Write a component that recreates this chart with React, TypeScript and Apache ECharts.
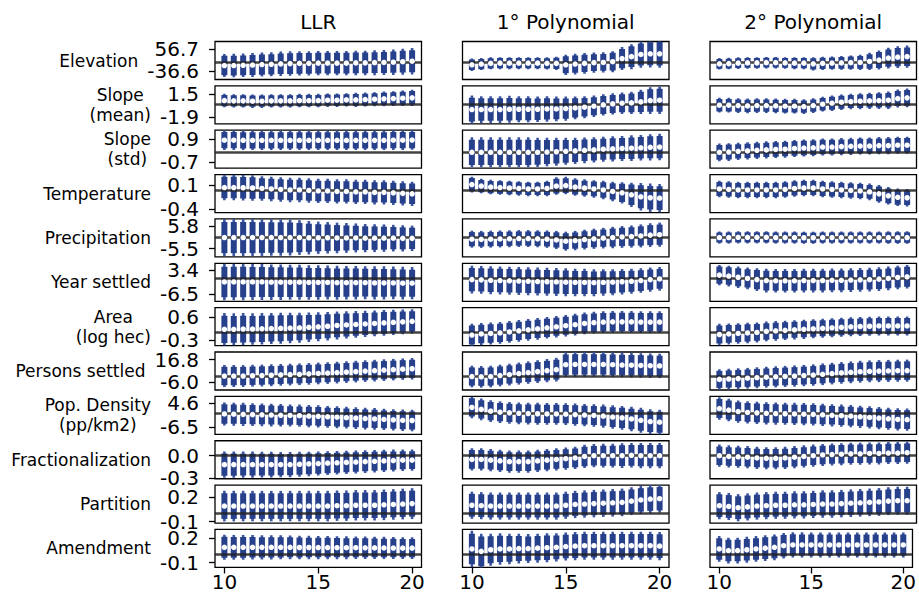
import React, { useEffect, useRef } from 'react';
import * as echarts from 'echarts';

// ---------- data ----------
const xValues = [10, 10.5, 11, 11.5, 12, 12.5, 13, 13.5, 14, 14.5, 15, 15.5, 16, 16.5, 17, 17.5, 18, 18.5, 19, 19.5, 20];
const xTicks = [10, 15, 20];
const columnTitles = ['LLR', '1° Polynomial', '2° Polynomial'];
const rowLabels = ['Elevation', 'Slope\n(mean)', 'Slope\n(std)', 'Temperature', 'Precipitation', 'Year settled', 'Area\n(log hec)', 'Persons settled', 'Pop. Density\n(pp/km2)', 'Fractionalization', 'Partition', 'Amendment'];
const tickHi = [56.7, 1.5, 0.9, 0.1, 5.8, 3.4, 0.6, 16.8, 4.6, 0.0, 0.2, 0.2];
const tickLo = [-36.6, -1.9, -0.7, -0.4, -5.5, -6.5, -0.3, -6.0, -6.5, -0.3, -0.1, -0.1];
const yMin = [-71.2, -2.93, -1.135, -0.464, -9.61, -9.67, -0.513, -14.2, -9.67, -0.309, -0.117, -0.16];
const yMax = [87.1, 2.74, 1.53, 0.315, 9.22, 6.4, 0.961, 24.4, 7.77, 0.2, 0.345, 0.312];

// estimates (est) and 95% CI half-widths (ci) per panel
const elevationLlrEst = [-13, -13, -12, -11, -9, -8, -6, -5, -4, -4, -3, -3, -3, -3, -2, -2, -1, 0, 1, 3, 5];
const elevationLlrCi = [48, 49, 49, 50, 50, 50, 51, 51, 51, 51, 51, 51, 51, 51, 51, 51, 52, 52, 53, 54, 55];
const elevationP1Est = [-10, -7, -4, -3, -3, -3, -3, -3, -4, -4, -10, -7, -4, -1, 0, 3, 16, 24, 33, 36, 36];
const elevationP1Ci = [26, 25, 25, 25, 25, 25, 25, 25, 26, 28, 42, 43, 43, 42, 42, 44, 48, 52, 55, 57, 58];
const elevationP2Est = [-6, -5, -3, -2, -2, -1, -1, -2, -3, -3, -6, -4, -3, -2, -1, 0, 4, 10, 18, 22, 24];
const elevationP2Ci = [24, 24, 24, 24, 24, 24, 24, 24, 25, 25, 28, 28, 28, 29, 30, 32, 36, 40, 43, 45, 46];

const slopeMeanLlrEst = [0.55, 0.5, 0.5, 0.45, 0.45, 0.5, 0.5, 0.5, 0.55, 0.55, 0.55, 0.6, 0.6, 0.65, 0.65, 0.7, 0.75, 0.8, 0.85, 0.9, 0.95];
const slopeMeanLlrCi = [1.0, 1.0, 1.0, 1.0, 1.0, 1.0, 1.0, 1.0, 1.0, 1.0, 1.0, 1.0, 1.0, 1.0, 1.05, 1.05, 1.05, 1.1, 1.1, 1.15, 1.2];
const slopeMeanP1Est = [-0.8, -0.8, -0.8, -0.8, -0.75, -0.75, -0.75, -0.75, -0.7, -0.7, -0.65, -0.55, -0.45, -0.3, -0.1, 0.05, 0.15, 0.2, 0.35, 0.55, 0.6];
const slopeMeanP1Ci = [2.1, 2.0, 2.0, 2.0, 2.0, 1.95, 1.95, 1.9, 1.9, 1.85, 1.8, 1.7, 1.65, 1.6, 1.6, 1.6, 1.6, 1.65, 1.8, 2.0, 2.05];
const slopeMeanP2Est = [-0.15, -0.15, -0.2, -0.25, -0.2, -0.2, -0.25, -0.3, -0.3, -0.35, -0.2, 0.0, 0.15, 0.3, 0.4, 0.45, 0.5, 0.55, 0.6, 0.85, 0.95];
const slopeMeanP2Ci = [1.1, 1.1, 1.1, 1.1, 1.1, 1.1, 1.1, 1.1, 1.1, 1.1, 1.1, 1.1, 1.15, 1.15, 1.15, 1.2, 1.2, 1.25, 1.3, 1.35, 1.4];

const slopeStdLlrEst = [0.83, 0.83, 0.82, 0.82, 0.82, 0.82, 0.82, 0.82, 0.82, 0.82, 0.82, 0.82, 0.82, 0.82, 0.82, 0.82, 0.82, 0.82, 0.83, 0.83, 0.84];
const slopeStdLlrCi = [0.68, 0.68, 0.68, 0.68, 0.68, 0.68, 0.68, 0.68, 0.68, 0.68, 0.68, 0.68, 0.68, 0.68, 0.68, 0.68, 0.68, 0.68, 0.68, 0.68, 0.68];
const slopeStdP1Est = [-0.02, -0.02, -0.02, -0.02, -0.02, -0.02, -0.02, -0.02, 0.0, 0.02, 0.05, 0.08, 0.12, 0.15, 0.2, 0.22, 0.25, 0.27, 0.3, 0.33, 0.35];
const slopeStdP1Ci = [1.05, 1.05, 1.05, 1.05, 1.05, 1.05, 1.05, 1.03, 1.0, 0.98, 0.95, 0.92, 0.9, 0.88, 0.88, 0.88, 0.88, 0.9, 0.9, 0.92, 0.93];
const slopeStdP2Est = [-0.02, 0.0, 0.05, 0.08, 0.12, 0.15, 0.18, 0.2, 0.25, 0.28, 0.3, 0.35, 0.35, 0.38, 0.4, 0.42, 0.42, 0.45, 0.45, 0.48, 0.48];
const slopeStdP2Ci = [0.62, 0.62, 0.6, 0.6, 0.6, 0.6, 0.6, 0.6, 0.6, 0.6, 0.6, 0.6, 0.6, 0.6, 0.6, 0.6, 0.6, 0.6, 0.6, 0.6, 0.6];

const temperatureLlrEst = [0.05, 0.05, 0.045, 0.04, 0.03, 0.02, 0.01, 0.0, 0.0, -0.01, -0.02, -0.02, -0.03, -0.03, -0.04, -0.04, -0.05, -0.05, -0.06, -0.07, -0.08];
const temperatureLlrCi = [0.26, 0.26, 0.26, 0.26, 0.25, 0.25, 0.25, 0.25, 0.25, 0.25, 0.25, 0.25, 0.25, 0.25, 0.25, 0.25, 0.25, 0.25, 0.25, 0.25, 0.25];
const temperatureP1Est = [0.11, 0.08, 0.06, 0.05, 0.04, 0.03, 0.02, 0.02, 0.03, 0.08, 0.09, 0.06, 0.04, 0.02, 0.0, -0.03, -0.06, -0.1, -0.14, -0.16, -0.17];
const temperatureP1Ci = [0.16, 0.15, 0.15, 0.15, 0.15, 0.15, 0.15, 0.15, 0.16, 0.18, 0.18, 0.18, 0.18, 0.18, 0.19, 0.2, 0.22, 0.25, 0.28, 0.29, 0.29];
const temperatureP2Est = [0.02, 0.01, 0.0, 0.0, 0.0, 0.0, 0.0, 0.01, 0.03, 0.04, 0.04, 0.02, 0.01, 0.0, -0.01, -0.02, -0.04, -0.08, -0.12, -0.15, -0.16];
const temperatureP2Ci = [0.17, 0.17, 0.17, 0.17, 0.17, 0.17, 0.17, 0.17, 0.17, 0.17, 0.17, 0.17, 0.17, 0.17, 0.17, 0.17, 0.17, 0.18, 0.18, 0.18, 0.18];

const precipitationLlrEst = [0, 0, 0, 0, 0, 0, 0, 0, 0, -0.1, -0.1, -0.1, -0.2, -0.2, -0.2, -0.3, -0.3, -0.3, -0.3, -0.4, -0.4];
const precipitationLlrCi = [9.2, 9.2, 9.2, 9.2, 9.1, 9.0, 9.0, 8.9, 8.6, 8.3, 8.0, 7.8, 7.6, 7.4, 7.2, 7.0, 6.9, 6.8, 6.6, 6.5, 6.3];
const precipitationP1Est = [-0.8, -0.9, -0.8, -0.7, -0.6, -0.5, -0.5, -0.6, -0.8, -1.2, -1.8, -1.5, -1.0, -0.6, -0.3, 0.0, 0.3, 0.5, 0.8, 1.2, 1.4];
const precipitationP1Ci = [4.2, 4.2, 4.2, 4.2, 4.2, 4.2, 4.2, 4.2, 4.3, 4.5, 4.7, 4.8, 4.9, 5.0, 5.1, 5.3, 5.4, 5.5, 5.7, 5.9, 6.0];
const precipitationP2Est = [0.0, 0.0, 0.1, 0.1, 0.1, 0.1, 0.0, 0.0, 0.0, -0.1, -0.1, 0.0, 0.0, 0.0, 0.0, 0.0, 0.0, 0.0, 0.0, 0.0, 0.0];
const precipitationP2Ci = [3.0, 3.0, 3.0, 3.0, 3.0, 3.0, 3.0, 3.0, 3.0, 3.0, 3.0, 3.0, 3.0, 3.0, 3.0, 3.0, 3.0, 3.0, 3.1, 3.1, 3.1];

const yearLlrEst = [-1.5, -1.5, -1.5, -1.5, -1.5, -1.6, -1.6, -1.6, -1.6, -1.7, -1.7, -1.7, -1.8, -1.8, -1.8, -1.8, -1.9, -1.9, -1.9, -2.0, -2.0];
const yearLlrCi = [7.7, 7.7, 7.7, 7.6, 7.6, 7.5, 7.5, 7.4, 7.4, 7.3, 7.3, 7.2, 7.2, 7.1, 7.1, 7.0, 7.0, 7.0, 6.9, 6.9, 6.8];
const yearP1Est = [-0.5, -0.6, -0.8, -0.9, -1.0, -1.1, -1.2, -1.3, -1.4, -1.5, -1.6, -1.7, -1.7, -1.8, -1.7, -1.6, -1.4, -1.2, -0.9, -0.5, -0.2];
const yearP1Ci = [5.9, 5.9, 5.9, 5.9, 5.9, 5.9, 5.9, 5.9, 5.9, 5.9, 5.9, 5.8, 5.8, 5.7, 5.6, 5.5, 5.4, 5.3, 5.2, 5.1, 5.0];
const yearP2Est = [1.4, 1.0, 0.5, 0.0, -0.5, -0.9, -1.0, -1.0, -1.0, -0.9, -0.9, -0.9, -0.8, -0.8, -0.7, -0.6, -0.5, -0.3, 0.0, 0.4, 0.7];
const yearP2Ci = [4.3, 4.4, 4.5, 4.6, 4.8, 5.0, 5.0, 5.0, 5.0, 5.0, 5.0, 5.0, 5.0, 5.0, 5.0, 5.0, 5.0, 5.0, 5.0, 5.0, 5.0];

const areaLlrEst = [0.12, 0.12, 0.13, 0.13, 0.14, 0.15, 0.16, 0.17, 0.18, 0.2, 0.22, 0.24, 0.27, 0.29, 0.31, 0.33, 0.35, 0.37, 0.39, 0.41, 0.43];
const areaLlrCi = [0.63, 0.62, 0.62, 0.61, 0.61, 0.6, 0.6, 0.59, 0.58, 0.57, 0.56, 0.55, 0.54, 0.53, 0.52, 0.51, 0.5, 0.5, 0.49, 0.48, 0.47];
const areaP1Est = [-0.1, -0.06, -0.04, -0.02, 0.02, 0.06, 0.1, 0.14, 0.18, 0.22, 0.26, 0.3, 0.35, 0.38, 0.4, 0.41, 0.41, 0.41, 0.4, 0.4, 0.4];
const areaP1Ci = [0.44, 0.43, 0.43, 0.42, 0.42, 0.42, 0.42, 0.42, 0.42, 0.42, 0.42, 0.42, 0.42, 0.42, 0.42, 0.42, 0.42, 0.42, 0.42, 0.42, 0.42];
const areaP2Est = [-0.08, -0.06, -0.04, -0.02, 0.0, 0.04, 0.06, 0.08, 0.1, 0.12, 0.14, 0.16, 0.18, 0.2, 0.22, 0.23, 0.24, 0.25, 0.25, 0.25, 0.25];
const areaP2Ci = [0.42, 0.41, 0.4, 0.4, 0.39, 0.38, 0.38, 0.37, 0.37, 0.37, 0.37, 0.37, 0.37, 0.37, 0.37, 0.37, 0.37, 0.37, 0.37, 0.37, 0.37];

const personsLlrEst = [0, 0, 0, 0.3, 0.5, 0.8, 1.2, 1.5, 1.8, 2.2, 2.6, 3.0, 3.5, 4.0, 4.5, 5.0, 5.5, 6.0, 6.5, 7.0, 7.4];
const personsLlrCi = [11.2, 11.2, 11.1, 11.1, 11.1, 11.1, 11.0, 11.0, 11.0, 11.0, 11.0, 11.0, 11.0, 11.0, 11.0, 11.0, 11.0, 11.0, 10.9, 10.9, 10.9];
const personsP1Est = [-0.5, -0.8, -0.5, 0.5, 1.5, 2.5, 3.5, 4.5, 5.5, 6.5, 11.5, 11.8, 11.8, 11.8, 11.8, 11.5, 11.2, 11.0, 10.8, 10.5, 10.3];
const personsP1Ci = [11.0, 11.0, 11.0, 11.0, 11.0, 11.2, 11.4, 11.6, 11.8, 12.0, 12.4, 12.4, 12.4, 12.4, 12.4, 12.4, 12.4, 12.4, 12.4, 12.4, 12.4];
const personsP2Est = [-3.4, -3.0, -2.6, -2.2, -1.7, -1.2, -0.8, -0.4, 0.0, 0.5, 1.0, 1.8, 2.5, 3.2, 3.8, 4.4, 4.8, 5.0, 5.2, 5.4, 5.5];
const personsP2Ci = [10.3, 10.4, 10.5, 10.5, 10.6, 10.6, 10.7, 10.7, 10.8, 10.8, 10.9, 11.0, 11.0, 11.0, 11.1, 11.1, 11.1, 11.2, 11.2, 11.2, 11.2];

const densityLlrEst = [-0.3, -0.4, -0.5, -0.6, -0.7, -0.8, -0.9, -1.0, -1.1, -1.3, -1.4, -1.6, -1.8, -2.0, -2.2, -2.4, -2.6, -2.8, -3.0, -3.2, -3.3];
const densityLlrCi = [5.3, 5.3, 5.3, 5.2, 5.2, 5.2, 5.2, 5.1, 5.1, 5.1, 5.1, 5.0, 5.0, 5.0, 5.0, 5.0, 5.0, 4.9, 4.9, 4.9, 4.9];
const densityP1Est = [2.7, 1.8, 1.0, 0.5, 0.2, 0.0, -0.1, -0.2, -0.3, -0.3, -0.4, -0.6, -0.8, -1.0, -1.3, -1.7, -2.1, -2.6, -3.2, -3.8, -4.1];
const densityP1Ci = [5.0, 5.0, 5.0, 5.0, 5.0, 5.0, 5.0, 5.0, 5.0, 5.0, 5.0, 5.1, 5.1, 5.2, 5.3, 5.4, 5.5, 5.6, 5.7, 5.7, 5.7];
const densityP2Est = [2.2, 1.5, 0.8, 0.4, 0.2, 0.0, -0.1, -0.2, -0.3, -0.4, -0.5, -0.7, -0.9, -1.1, -1.3, -1.6, -1.9, -2.2, -2.5, -2.8, -2.9];
const densityP2Ci = [5.2, 5.2, 5.1, 5.1, 5.1, 5.1, 5.1, 5.1, 5.1, 5.1, 5.1, 5.1, 5.1, 5.1, 5.1, 5.1, 5.1, 5.1, 5.1, 5.1, 5.1];

const fracLlrEst = [-0.12, -0.12, -0.12, -0.12, -0.12, -0.12, -0.12, -0.12, -0.115, -0.11, -0.105, -0.1, -0.095, -0.09, -0.085, -0.08, -0.075, -0.07, -0.065, -0.06, -0.06];
const fracLlrCi = [0.177, 0.177, 0.175, 0.175, 0.173, 0.172, 0.17, 0.168, 0.166, 0.164, 0.162, 0.16, 0.158, 0.156, 0.154, 0.152, 0.15, 0.148, 0.146, 0.144, 0.142];
const fracP1Est = [-0.05, -0.05, -0.06, -0.07, -0.08, -0.08, -0.08, -0.07, -0.06, -0.05, -0.04, -0.03, -0.01, 0.0, 0.0, 0.0, 0.0, 0.005, 0.0, 0.0, 0.0];
const fracP1Ci = [0.15, 0.15, 0.15, 0.15, 0.15, 0.15, 0.15, 0.15, 0.15, 0.15, 0.15, 0.15, 0.155, 0.155, 0.16, 0.16, 0.165, 0.165, 0.17, 0.17, 0.17];
const fracP2Est = [0.0, -0.01, -0.015, -0.02, -0.03, -0.035, -0.035, -0.03, -0.02, -0.01, 0.0, 0.01, 0.015, 0.02, 0.025, 0.025, 0.03, 0.03, 0.035, 0.035, 0.04];
const fracP2Ci = [0.148, 0.148, 0.148, 0.148, 0.148, 0.148, 0.148, 0.148, 0.148, 0.148, 0.148, 0.148, 0.148, 0.148, 0.148, 0.148, 0.148, 0.148, 0.148, 0.148, 0.148];

const partitionLlrEst = [0.09, 0.09, 0.09, 0.09, 0.09, 0.09, 0.09, 0.09, 0.09, 0.09, 0.09, 0.09, 0.095, 0.095, 0.1, 0.1, 0.1, 0.105, 0.11, 0.115, 0.12];
const partitionLlrCi = [0.186, 0.186, 0.185, 0.185, 0.185, 0.185, 0.185, 0.185, 0.185, 0.185, 0.185, 0.185, 0.185, 0.185, 0.185, 0.185, 0.185, 0.186, 0.186, 0.187, 0.188];
const partitionP1Est = [0.1, 0.095, 0.09, 0.09, 0.09, 0.09, 0.09, 0.09, 0.09, 0.09, 0.1, 0.11, 0.115, 0.12, 0.125, 0.13, 0.135, 0.15, 0.165, 0.175, 0.18];
const partitionP1Ci = [0.165, 0.165, 0.165, 0.165, 0.165, 0.165, 0.165, 0.165, 0.165, 0.165, 0.165, 0.166, 0.166, 0.167, 0.167, 0.168, 0.168, 0.169, 0.17, 0.17, 0.17];
const partitionP2Est = [0.095, 0.085, 0.07, 0.08, 0.09, 0.095, 0.1, 0.1, 0.105, 0.105, 0.11, 0.115, 0.115, 0.12, 0.125, 0.13, 0.135, 0.14, 0.15, 0.155, 0.155];
const partitionP2Ci = [0.165, 0.165, 0.165, 0.165, 0.165, 0.165, 0.165, 0.165, 0.166, 0.166, 0.166, 0.167, 0.167, 0.167, 0.168, 0.168, 0.168, 0.169, 0.169, 0.17, 0.17];

const amendmentLlrEst = [0.09, 0.09, 0.09, 0.09, 0.09, 0.09, 0.09, 0.09, 0.088, 0.088, 0.087, 0.087, 0.086, 0.085, 0.085, 0.084, 0.083, 0.082, 0.081, 0.08, 0.08];
const amendmentLlrCi = [0.155, 0.154, 0.153, 0.152, 0.151, 0.15, 0.149, 0.148, 0.147, 0.146, 0.145, 0.144, 0.143, 0.142, 0.141, 0.14, 0.139, 0.138, 0.137, 0.136, 0.135];
const amendmentP1Est = [0.07, 0.04, 0.06, 0.07, 0.07, 0.075, 0.075, 0.08, 0.085, 0.09, 0.1, 0.105, 0.11, 0.11, 0.11, 0.11, 0.11, 0.11, 0.11, 0.11, 0.105];
const amendmentP1Ci = [0.225, 0.22, 0.2, 0.195, 0.19, 0.185, 0.18, 0.18, 0.18, 0.175, 0.175, 0.175, 0.175, 0.175, 0.175, 0.175, 0.175, 0.175, 0.175, 0.175, 0.175];
const amendmentP2Est = [0.07, 0.05, 0.05, 0.06, 0.07, 0.08, 0.09, 0.11, 0.12, 0.12, 0.12, 0.12, 0.12, 0.12, 0.12, 0.12, 0.12, 0.12, 0.12, 0.12, 0.12];
const amendmentP2Ci = [0.16, 0.16, 0.16, 0.16, 0.16, 0.16, 0.16, 0.158, 0.157, 0.156, 0.155, 0.155, 0.155, 0.155, 0.155, 0.155, 0.155, 0.155, 0.155, 0.155, 0.155];

const panelData = [
  [[elevationLlrEst, elevationLlrCi], [elevationP1Est, elevationP1Ci], [elevationP2Est, elevationP2Ci]],
  [[slopeMeanLlrEst, slopeMeanLlrCi], [slopeMeanP1Est, slopeMeanP1Ci], [slopeMeanP2Est, slopeMeanP2Ci]],
  [[slopeStdLlrEst, slopeStdLlrCi], [slopeStdP1Est, slopeStdP1Ci], [slopeStdP2Est, slopeStdP2Ci]],
  [[temperatureLlrEst, temperatureLlrCi], [temperatureP1Est, temperatureP1Ci], [temperatureP2Est, temperatureP2Ci]],
  [[precipitationLlrEst, precipitationLlrCi], [precipitationP1Est, precipitationP1Ci], [precipitationP2Est, precipitationP2Ci]],
  [[yearLlrEst, yearLlrCi], [yearP1Est, yearP1Ci], [yearP2Est, yearP2Ci]],
  [[areaLlrEst, areaLlrCi], [areaP1Est, areaP1Ci], [areaP2Est, areaP2Ci]],
  [[personsLlrEst, personsLlrCi], [personsP1Est, personsP1Ci], [personsP2Est, personsP2Ci]],
  [[densityLlrEst, densityLlrCi], [densityP1Est, densityP1Ci], [densityP2Est, densityP2Ci]],
  [[fracLlrEst, fracLlrCi], [fracP1Est, fracP1Ci], [fracP2Est, fracP2Ci]],
  [[partitionLlrEst, partitionLlrCi], [partitionP1Est, partitionP1Ci], [partitionP2Est, partitionP2Ci]],
  [[amendmentLlrEst, amendmentLlrCi], [amendmentP1Est, amendmentP1Ci], [amendmentP2Est, amendmentP2Ci]],
];

// ---------- layout / style ----------
const W = 919;
const H = 599;
const COL_LEFT = [215, 462.5, 710];
const COL_W = 206.5;
const ROW_TOP0 = 41.5;
const ROW_PITCH = 44.36;
const ROW_H = 38;
const BAR_COLOR = '#27408b';
const FONT = 'DejaVu Sans';
const TICK_FONT = 20;
const LABEL_FONT = 17;
const Y_LABEL_MARGIN = 16;
const Z90 = 1.645 / 1.96; // inner (90%) interval relative to the 95% interval
const fmt = (v: number) => v.toFixed(1);

export default function App() {
  const ref = useRef<HTMLDivElement>(null);

  useEffect(() => {
    if (!ref.current) return;
    const chart = echarts.init(ref.current, null, { renderer: 'svg', width: W, height: H });

    const canvas = document.createElement('canvas');
    const ctx = canvas.getContext('2d');
    const measure = (s: string, size: number) => {
      if (!ctx) return s.length * size * 0.6;
      ctx.font = `${size}px "${FONT}"`;
      return ctx.measureText(s).width;
    };

    const grids: any[] = [];
    const xAxes: any[] = [];
    const yAxes: any[] = [];
    const series: any[] = [];
    const graphics: any[] = [];

    const renderItem = (params: any, api: any) => {
      const x = api.value(0);
      const est = api.value(1);
      const ci = api.value(2);
      const t = api.coord([x, est + ci]);
      const b = api.coord([x, est - ci]);
      const ti = api.coord([x, est + ci * Z90]);
      const bi = api.coord([x, est - ci * Z90]);
      return {
        type: 'group',
        children: [
          { type: 'line', shape: { x1: t[0], y1: t[1], x2: b[0], y2: b[1] }, style: { stroke: '#3a54a0', lineWidth: 2.6 } },
          { type: 'line', shape: { x1: ti[0], y1: ti[1], x2: bi[0], y2: bi[1] }, style: { stroke: BAR_COLOR, lineWidth: 6 } },
        ],
      };
    };

    for (let r = 0; r < 12; r++) {
      const top = ROW_TOP0 + r * ROW_PITCH;
      for (let c = 0; c < 3; c++) {
        const idx = r * 3 + c;
        const [est, ci] = panelData[r][c];
        grids.push({
          left: COL_LEFT[c], top, width: COL_W, height: ROW_H,
          show: true, borderColor: '#000', borderWidth: 1.3, backgroundColor: 'rgba(0,0,0,0)',
          containLabel: false,
        });
        const bottomRow = r === 11;
        xAxes.push({
          type: 'value', gridIndex: idx, min: 9.5, max: 20.5,
          axisLine: { show: false, onZero: false },
          splitLine: { show: false },
          axisTick: bottomRow ? { show: true, customValues: xTicks, length: 6, lineStyle: { color: '#000', width: 1.3 } } : { show: false },
          axisLabel: bottomRow ? { show: true, customValues: xTicks, fontSize: TICK_FONT, fontFamily: FONT, color: '#000', margin: 5 } : { show: false },
        });
        const leftCol = c === 0;
        const ticks = [tickLo[r], tickHi[r]];
        yAxes.push({
          type: 'value', gridIndex: idx, min: yMin[r], max: yMax[r],
          axisLine: { show: false, onZero: false },
          splitLine: { show: false },
          axisTick: leftCol ? { show: true, customValues: ticks, length: 6, lineStyle: { color: '#000', width: 1.3 } } : { show: false },
          axisLabel: leftCol ? {
            show: true, customValues: ticks, fontSize: TICK_FONT, fontFamily: FONT, color: '#000', margin: Y_LABEL_MARGIN,
            formatter: fmt,
          } : { show: false },
        });
        const points = xValues.map((x, k) => [x, est[k], ci[k]]);
        series.push({
          type: 'custom', xAxisIndex: idx, yAxisIndex: idx, data: points, renderItem, clip: true, z: 2,
          silent: true,
          markLine: {
            silent: true, symbol: 'none', label: { show: false },
            lineStyle: { color: '#222', width: 2.6, type: 'solid', opacity: 0.85 },
            data: [{ yAxis: 0 }], z: 5,
          },
        });
        series.push({
          type: 'scatter', xAxisIndex: idx, yAxisIndex: idx,
          data: xValues.map((x, k) => [x, est[k]]),
          symbol: 'circle', symbolSize: 5.5, itemStyle: { color: '#ffffff', opacity: 1 },
          z: 10, silent: true,
        });
      }
      // row label: right edge sits a fixed pad left of the widest tick label
      const tickRight = COL_LEFT[0] - Y_LABEL_MARGIN;
      const tickW = Math.max(measure(fmt(tickHi[r]), TICK_FONT), measure(fmt(tickLo[r]), TICK_FONT));
      const labelRight = tickRight - tickW - 9;
      const lines = rowLabels[r].split('\n');
      const cy = top + ROW_H / 2;
      if (lines.length === 1) {
        graphics.push({
          type: 'text', x: labelRight, y: cy,
          style: { text: lines[0], fontSize: LABEL_FONT, fontFamily: FONT, fill: '#000', textAlign: 'right', textVerticalAlign: 'middle' },
        });
      } else {
        const wmax = Math.max(...lines.map((s) => measure(s, LABEL_FONT)));
        graphics.push({
          type: 'text', x: labelRight - wmax / 2, y: cy,
          style: { text: rowLabels[r], fontSize: LABEL_FONT, fontFamily: FONT, fill: '#000', textAlign: 'center', textVerticalAlign: 'middle', lineHeight: 20 },
        });
      }
    }

    for (let c = 0; c < 3; c++) {
      graphics.push({
        type: 'text', x: COL_LEFT[c] + COL_W / 2, y: 22,
        style: { text: columnTitles[c], fontSize: 20, fontFamily: FONT, fill: '#000', textAlign: 'center', textVerticalAlign: 'middle' },
      });
    }

    chart.setOption({
      animation: false,
      backgroundColor: '#ffffff',
      grid: grids,
      xAxis: xAxes,
      yAxis: yAxes,
      series,
      graphic: graphics,
    });

    return () => {
      chart.dispose();
    };
  }, []);

  return <div ref={ref} style={{ position: 'absolute', left: 0, top: 0, width: W, height: H }} />;
}
